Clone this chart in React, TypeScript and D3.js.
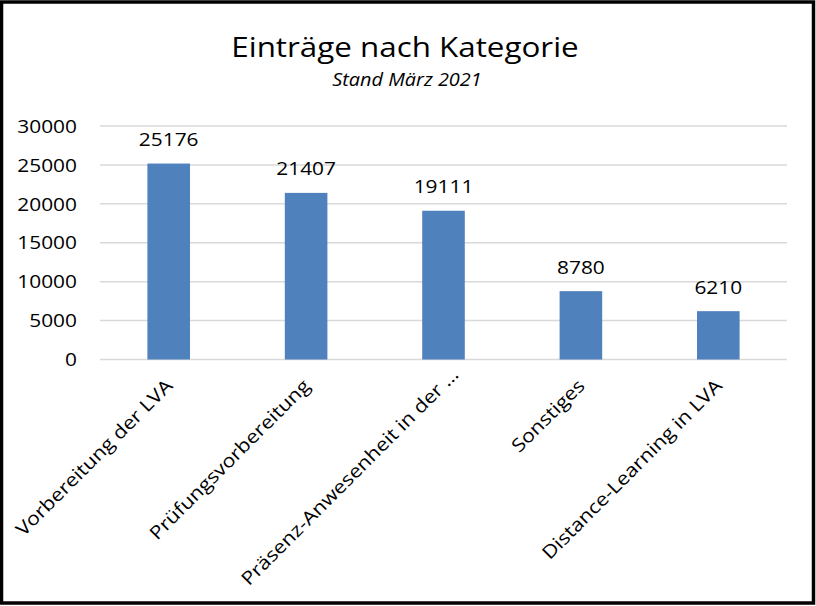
import React from "react";
import * as d3 from "d3";

const categories = [
  "Vorbereitung der LVA",
  "Prüfungsvorbereitung",
  "Präsenz-Anwesenheit in der …",
  "Sonstiges",
  "Distance-Learning in LVA",
];
const values = [25176, 21407, 19111, 8780, 6210];
const yTicks = [0, 5000, 10000, 15000, 20000, 25000, 30000];
const title = "Einträge nach Kategorie";
const subtitle = "Stand März 2021";

const W = 816;
const H = 606;
const FONT = "'Open Sans', 'DejaVu Sans', sans-serif";
const SX = 1.13;

export default function App() {
  const x = d3
    .scaleBand<string>()
    .domain(categories)
    .range([100, 787])
    .paddingInner(0.69)
    .paddingOuter(0.345);
  const y = d3.scaleLinear().domain([0, 30000]).range([359.5, 126]);

  return (
    <svg
      width={W}
      height={H}
      style={{ position: "absolute", left: 0, top: 0, background: "#fff" }}
      fontFamily={FONT}
    >
      <rect x={0} y={0} width={W} height={H} fill="#fff" />
      {/* grid */}
      {yTicks.map((t) => (
        <line
          key={"g" + t}
          x1={100}
          x2={787}
          y1={y(t)}
          y2={y(t)}
          stroke="#d9d9d9"
          strokeWidth={1.5}
        />
      ))}
      {/* y tick labels */}
      {yTicks.map((t) => (
        <text
          key={"t" + t}
          transform={`translate(77,${y(t) + 6.7}) scale(${SX},1)`}
          textAnchor="end"
          fontSize={18.5}
          fill="#000"
        >
          {t}
        </text>
      ))}
      {/* bars */}
      {categories.map((c, i) => (
        <rect
          key={"b" + c}
          x={x(c)}
          y={y(values[i])}
          width={x.bandwidth()}
          height={y(0) - y(values[i])}
          fill="#4f81bd"
        />
      ))}
      {/* value labels */}
      {categories.map((c, i) => (
        <text
          key={"v" + c}
          transform={`translate(${(x(c) as number) + x.bandwidth() / 2},${
            y(values[i]) - 17.5
          }) scale(${SX},1)`}
          textAnchor="middle"
          fontSize={18.5}
          fill="#000"
        >
          {values[i]}
        </text>
      ))}
      {/* category labels */}
      {categories.map((c) => {
        const truncated = c.endsWith("…");
        return (
          <text
            key={"c" + c}
            transform={`translate(${
              (x(c) as number) + x.bandwidth() / 2 + 5
            },387) rotate(-45) translate(${truncated ? 16 : 0},0) scale(1.15,1)`}
            textAnchor="end"
            fontSize={18.5}
            fill="#000"
          >
            {c}
          </text>
        );
      })}
      {/* title */}
      <text
        transform={`translate(405,57) scale(1.12,1)`}
        textAnchor="middle"
        fontSize={28}
        fill="#000"
      >
        {title}
      </text>
      <text
        transform={`translate(407,86) scale(1.15,1)`}
        textAnchor="middle"
        fontSize={17.3}
        fontStyle="italic"
        fill="#000"
      >
        {subtitle}
      </text>
      {/* frame */}
      <rect
        x={1.5}
        y={2}
        width={812}
        height={601}
        fill="none"
        stroke="#000"
        strokeWidth={3.5}
      />
    </svg>
  );
}
